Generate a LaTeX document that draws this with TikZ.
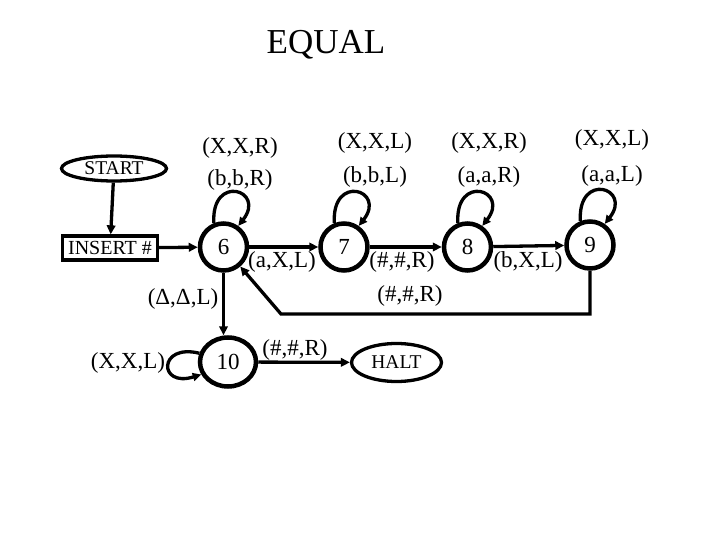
\documentclass[tikz,border=0pt]{standalone}
\usepackage{fontspec}
\setmainfont{Liberation Serif}
\usetikzlibrary{arrows.meta,shapes.geometric}
\begin{document}
\begin{tikzpicture}[x=1pt,y=1pt,
  st/.style={circle,draw,line width=4.5pt,minimum size=47pt,inner sep=0pt,font=\fontsize{23}{23}\selectfont},
  edge/.style={line width=3.3pt,-{Triangle[length=9pt,width=8.5pt]}},
  loopedge/.style={line width=3.3pt,-{Triangle[length=8.5pt,width=8pt]}},
  lbl/.style={font=\fontsize{23}{23}\selectfont,inner sep=0pt},
  term/.style={ellipse,draw,line width=3.3pt,inner sep=0pt,font=\fontsize{19.5}{19.5}\selectfont}]
\useasboundingbox (0,0) rectangle (720,-540);
\node[font=\fontsize{35}{35}\selectfont] (title) at (326,-45) {EQUAL};
% terminals
\node[term,minimum width=105pt,minimum height=25pt] (start) at (114,-168.5) {START};
\node[draw,line width=3.3pt,minimum width=95pt,minimum height=24pt,inner sep=0pt,font=\fontsize{20}{20}\selectfont] (ins) at (110,-248) {INSERT \#};
\node[term,minimum width=90pt,minimum height=38pt] (halt) at (396.5,-362.5) {HALT};
% states
\node[st] (s6) at (223.5,-247) {6};
\node[st] (s7) at (344,-247) {7};
\node[st] (s8) at (467.5,-247) {8};
\node[st] (s9) at (590,-245) {9};
\node[st,ellipse,minimum width=56pt,minimum height=49pt] (s10) at (228,-362) {10};
% edges
\draw[edge] (start) -- (ins);
\draw[edge] (ins) -- (s6);
\draw[edge] (s6) -- (s7);
\draw[edge] (s7) -- (s8);
\draw[edge] (s8) -- (s9);
\draw[edge] (s6.south) -- (s6.south |- s10.north);
\draw[edge] (s10) -- (halt);
\coordinate (c1) at (281,-314);
\draw[edge] (s9.south) |- (c1) -- (s6);
% self loops
\foreach \s in {s6,s7,s8,s9}{
  \draw[loopedge] (\s.112) .. controls +(-3,50) and +(28,36) .. (\s.55);
}
\draw[loopedge] (s10.163) .. controls (158,-343) and (158,-388) .. (s10.205);
% loop labels
\node[lbl] (l6a) at (240,-148) {(X,X,R)};
\node[lbl] (l6b) at (240,-180) {(b,b,R)};
\node[lbl] (l7a) at (375,-143) {(X,X,L)};
\node[lbl] (l7b) at (375,-177) {(b,b,L)};
\node[lbl] (l8a) at (489,-143) {(X,X,R)};
\node[lbl] (l8b) at (489,-177) {(a,a,R)};
\node[lbl] (l9a) at (612,-140) {(X,X,L)};
\node[lbl] (l9b) at (612,-176) {(a,a,L)};
\node[lbl] (l10) at (128,-363) {(X,X,L)};
% edge labels
\node[lbl] (e67) at (282,-262) {(a,X,L)};
\node[lbl] (e78) at (402,-262) {(\#,\#,R)};
\node[lbl] (e89) at (528,-262) {(b,X,L)};
\node[lbl] (e610) at (183,-299) {(Δ,Δ,L)};
\node[lbl] (e96) at (410,-296) {(\#,\#,R)};
\node[lbl] (e10h) at (295,-350) {(\#,\#,R)};
\end{tikzpicture}
\end{document}
